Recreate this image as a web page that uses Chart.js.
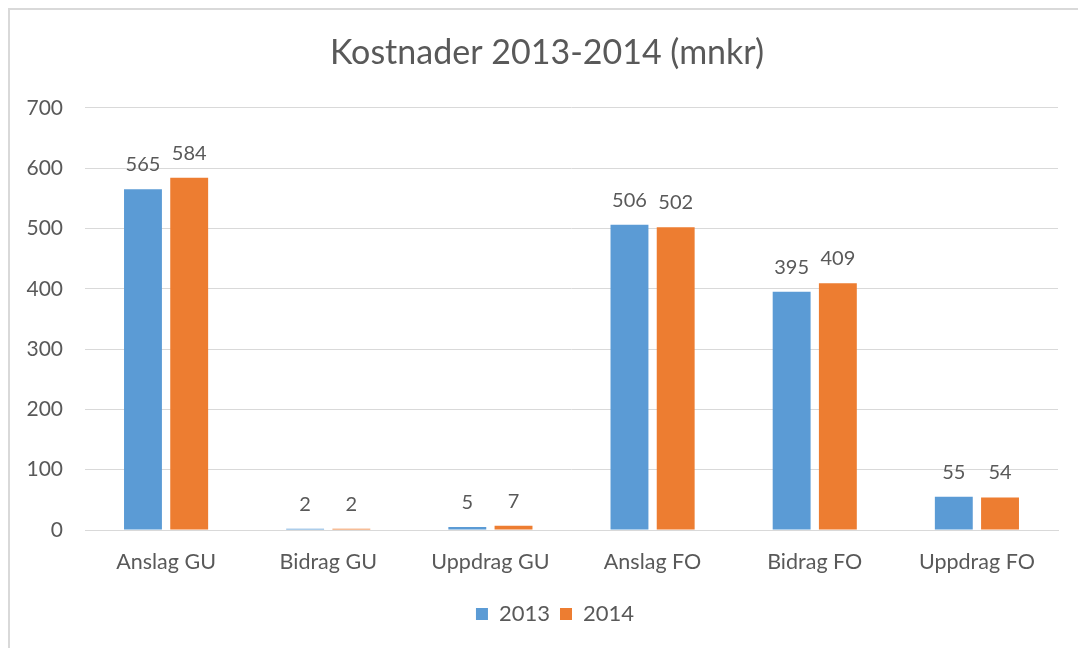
<!DOCTYPE html>
<html>
<head>
<meta charset="utf-8">
<script src="https://cdn.jsdelivr.net/npm/chart.js@4.4.1/dist/chart.umd.min.js"></script>
<style>
  html, body { margin: 0; padding: 0; background: #fff; overflow: hidden; }
  #frame { position: absolute; left: 8px; top: 8px; width: 1100px; height: 700px; border: 2px solid #d9d9d9; box-sizing: border-box; }
  #wrap { position: absolute; left: 0; top: 0; width: 1078px; height: 648px; }
</style>
</head>
<body>
<div id="frame"></div>
<div id="wrap"><canvas id="costChart"></canvas></div>
<script>
const categories = ["Anslag GU", "Bidrag GU", "Uppdrag GU", "Anslag FO", "Bidrag FO", "Uppdrag FO"];
const values2013 = [565, 2, 5, 506, 395, 55];
const values2014 = [584, 2, 7, 502, 409, 54];
const yTicks = [0, 100, 200, 300, 400, 500, 600, 700];

const textColor = "#595959";
const fontFamily = "Lato, 'Open Sans', sans-serif";

// values above each bar
const barLabels = {
    id: "barLabels",
    afterDatasetsDraw(chart) {
        const ctx = chart.ctx;
        ctx.save();
        ctx.fillStyle = textColor;
        ctx.font = "20px " + fontFamily;
        ctx.textAlign = "center";
        ctx.textBaseline = "alphabetic";
        chart.data.datasets.forEach((ds, i) => {
            chart.getDatasetMeta(i).data.forEach((bar, j) => {
                ctx.fillText(String(ds.data[j]), bar.x, bar.y - 18);
            });
        });
        ctx.restore();
    }
};

// title and legend sit a bit right of the canvas centre in the original
const boxShift = {
    id: "boxShift",
    afterLayout(chart) {
        chart.legend.left += 26;
        chart.legend.right += 26;
        chart.titleBlock.left += 18;
        chart.titleBlock.right += 18;
    }
};

const ctx = document.getElementById("costChart").getContext("2d");

const costChart = new Chart(ctx, {
    type: "bar",
    data: {
        labels: categories,
        datasets: [
            {
                label: "2013",
                data: values2013,
                backgroundColor: "#5B9BD5",
                categoryPercentage: 0.57,
                barPercentage: 0.82
            },
            {
                label: "2014",
                data: values2014,
                backgroundColor: "#ED7D31",
                categoryPercentage: 0.57,
                barPercentage: 0.82
            }
        ]
    },
    options: {
        responsive: true,
        maintainAspectRatio: false,
        animation: false,
        layout: {
            padding: { left: 0, right: 20, top: 0, bottom: 13 }
        },
        plugins: {
            title: {
                display: true,
                text: "Kostnader 2013-2014 (mnkr)",
                color: textColor,
                font: { family: fontFamily, size: 34, weight: "normal" },
                padding: { top: 33, bottom: 34 }
            },
            legend: {
                position: "bottom",
                labels: {
                    color: textColor,
                    font: { family: fontFamily, size: 22 },
                    boxWidth: 12,
                    boxHeight: 12,
                    padding: 10
                }
            },
            tooltip: { enabled: false }
        },
        scales: {
            x: {
                grid: { display: false },
                border: { color: "#d9d9d9", width: 1 },
                ticks: {
                    color: textColor,
                    font: { family: fontFamily, size: 21.5 },
                    padding: 11
                },
                afterFit: s => { s.height = 63; }
            },
            y: {
                min: 0,
                max: 700,
                afterBuildTicks: s => { s.ticks = yTicks.map(v => ({ value: v })); },
                grid: { color: "#d9d9d9", drawTicks: false },
                border: { display: false },
                ticks: {
                    color: textColor,
                    font: { family: fontFamily, size: 21 },
                    padding: 22
                },
                afterFit: s => { s.width = 85; }
            }
        }
    },
    plugins: [barLabels, boxShift]
});
</script>
</body>
</html>
